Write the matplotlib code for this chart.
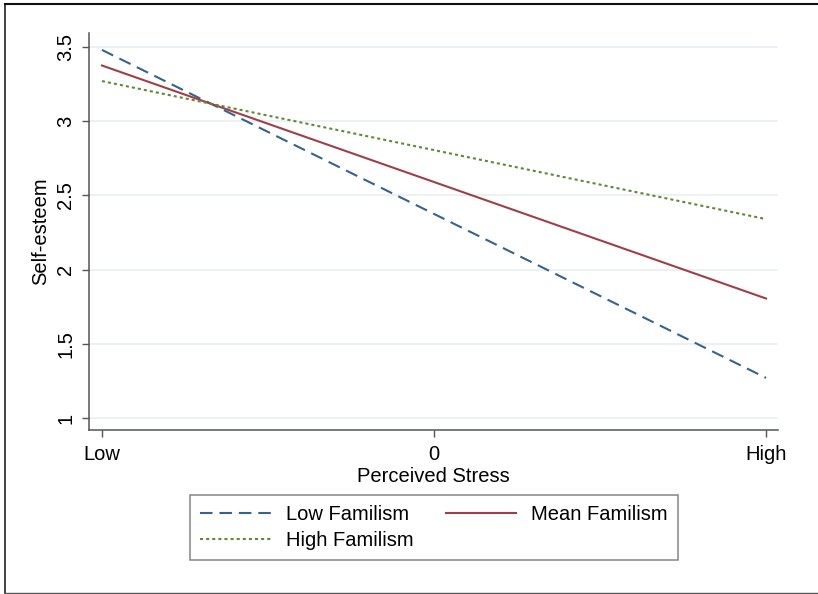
import numpy as np
import matplotlib
matplotlib.use("Agg")
import matplotlib.pyplot as plt
from matplotlib.lines import Line2D

plt.rcParams['font.family'] = ['Liberation Sans', 'DejaVu Sans']
plt.rcParams['lines.scale_dashes'] = False

# data
stress_pos = [-1, 1]
stress_labels = ["Low", "0", "High"]
stress_ticks = [-1, 0, 1]
low_fam = [3.48, 1.27]
mean_fam = [3.375, 1.805]
high_fam = [3.27, 2.34]
yticks = [1, 1.5, 2, 2.5, 3, 3.5]
ytick_labels = ["1", "1.5", "2", "2.5", "3", "3.5"]

fig = plt.figure(figsize=(8.18, 5.94), dpi=100)
ax = fig.add_axes([89/818, 1 - 430/594, (778-89)/818, (430-33)/594])

for y in yticks:
    ax.axhline(y, color="#eaf0f4", lw=1.3, zorder=0)

ax.plot(stress_pos, low_fam, color="#36638d", lw=1.5, dashes=(9, 5), label="Low Familism")
ax.plot(stress_pos, mean_fam, color="#9e3f48", lw=1.5, label="Mean Familism")
ax.plot(stress_pos, high_fam, color="#5e8a36", lw=1.5, dashes=(2.2, 2.2), label="High Familism")

ax.set_xlim(-1.039, 1.036)
ax.set_ylim(0.919, 3.594)
ax.set_xticks(stress_ticks)
ax.set_xticklabels(stress_labels)
ax.set_yticks(yticks)
ax.set_yticklabels(ytick_labels, rotation=90, va="center")

for s in ["top", "right"]:
    ax.spines[s].set_visible(False)
for s in ["left", "bottom"]:
    ax.spines[s].set_color("#555555")
    ax.spines[s].set_linewidth(1.1)
ax.tick_params(axis="both", color="#555555", length=5, width=1, labelsize=14.5, pad=5)
ax.tick_params(axis="x", pad=6)

ax.set_xlabel("Perceived Stress", fontsize=14.5, labelpad=2)
ax.set_ylabel("Self-esteem", fontsize=14.5, labelpad=4)

h, l = ax.get_legend_handles_labels()
order = [0, 2, 1]
leg = fig.legend([h[i] for i in order], [l[i] for i in order], ncol=2,
                 loc="center", bbox_to_anchor=(434/818, 1 - 527.5/594),
                 fontsize=14.5, frameon=True, fancybox=False, edgecolor="#666666",
                 handlelength=3.5, handletextpad=0.75, columnspacing=1.6,
                 borderpad=0.5, labelspacing=0.35, borderaxespad=0)
leg.get_frame().set_linewidth(1.1)

# outer border
fig.add_artist(Line2D([5/818, 5/818], [1/594, 1 - 4/594], color="#222222", lw=1.2, transform=fig.transFigure))
fig.add_artist(Line2D([5/818, 1], [1 - 4/594, 1 - 4/594], color="#111111", lw=1.5, transform=fig.transFigure))
fig.add_artist(Line2D([5/818, 1], [1.5/594, 1.5/594], color="#555555", lw=1.0, transform=fig.transFigure))

fig.savefig("out.png", dpi=100)
